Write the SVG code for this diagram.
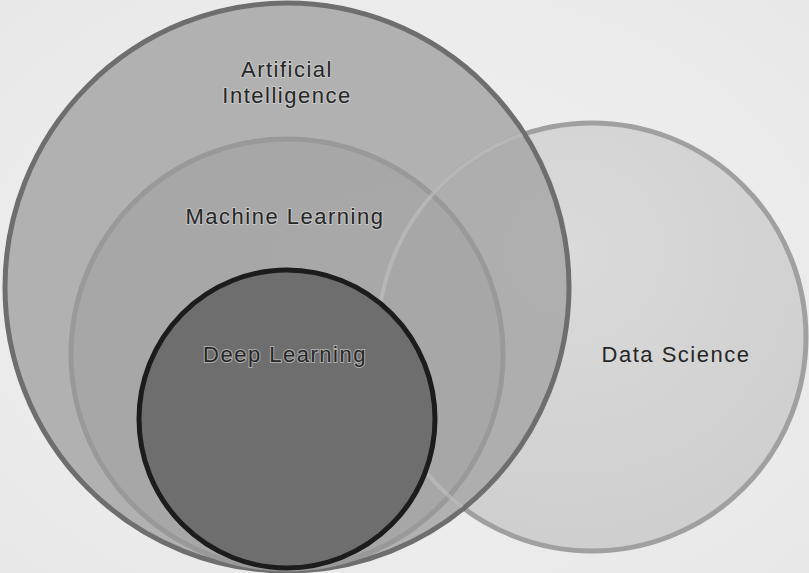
<svg xmlns="http://www.w3.org/2000/svg" width="809" height="573" viewBox="0 0 809 573">
<defs>
<radialGradient id="bg" cx="0.5" cy="0.5" r="0.7">
<stop offset="0" stop-color="#f2f2f2"/>
<stop offset="1" stop-color="#e8e8e8"/>
</radialGradient>
<radialGradient id="dsg" cx="0.45" cy="0.3" r="0.8">
<stop offset="0" stop-color="#dadada"/>
<stop offset="1" stop-color="#cdcdcd"/>
</radialGradient>
<clipPath id="aiclip">
<ellipse cx="287" cy="287" rx="280" ry="282"/>
</clipPath>
</defs>
<style>
.lbl{font-family:"Liberation Sans","DejaVu Sans",Arial,sans-serif;font-size:22px;letter-spacing:1.5px;fill:#262626;text-anchor:middle;stroke:#d8d8d8;stroke-width:2px;paint-order:stroke;stroke-opacity:0.6}
</style>
<rect width="809" height="573" fill="url(#bg)"/>
<g id="ds">
<ellipse cx="592" cy="337" rx="214" ry="214" fill="url(#dsg)" stroke="#a0a0a0" stroke-width="5"/>
</g>
<g id="ai">
<ellipse cx="287" cy="287" rx="282" ry="284" fill="#a9a9a9" fill-opacity="0.88" stroke="#6e6e6e" stroke-width="5"/>
</g>
<g id="ml">
<ellipse cx="287" cy="354" rx="216" ry="215" fill="#a6a6a6" fill-opacity="0.9" stroke="#999999" stroke-width="5"/>
</g>
<g id="ds-edge" clip-path="url(#aiclip)">
<ellipse cx="592" cy="337" rx="214" ry="214" fill="none" stroke="#c2c2c2" stroke-opacity="0.55" stroke-width="4"/>
</g>
<g id="dl">
<ellipse cx="287" cy="419" rx="148" ry="149" fill="#6e6e6e" stroke="#1c1c1c" stroke-width="5"/>
</g>
<g id="labels">
<text class="lbl" x="287" y="77">Artificial</text>
<text class="lbl" x="287" y="103">Intelligence</text>
<text class="lbl" x="285" y="224">Machine Learning</text>
<text class="lbl" x="285" y="362">Deep Learning</text>
<text class="lbl" x="676" y="362">Data Science</text>
</g>
</svg>
